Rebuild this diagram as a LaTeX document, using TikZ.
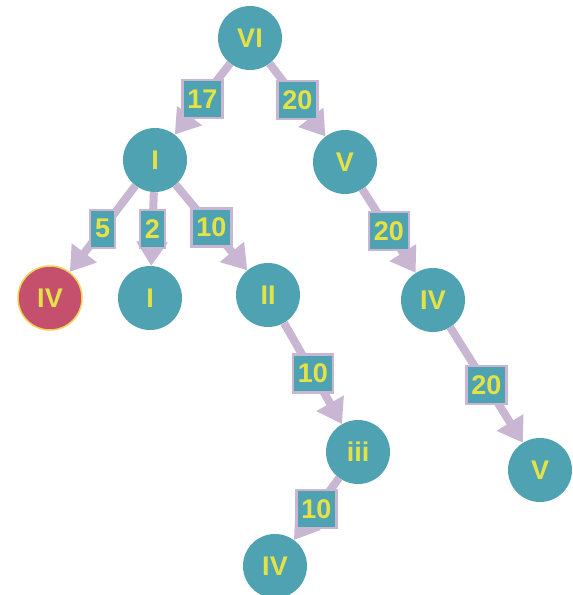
\documentclass[tikz,border=0pt]{standalone}
\usepackage{fontspec}
\setmainfont{Liberation Sans}
\usetikzlibrary{arrows.meta}
\definecolor{teal1}{RGB}{78,162,178}
\definecolor{rose1}{RGB}{196,80,110}
\definecolor{gold1}{RGB}{240,210,80}
\definecolor{txt1}{RGB}{228,226,70}
\definecolor{lav1}{RGB}{201,182,211}

\begin{document}
\begin{tikzpicture}[x=1pt, y=-1pt,
    vert/.style={circle, fill=teal1, minimum size=64pt, inner sep=0pt, text=txt1, font=\fontsize{27}{27}\selectfont\bfseries},
    hit/.style={vert, fill=rose1, draw=gold1, line width=1.5pt},
    wlabel/.style={fill=teal1, draw=lav1, line width=2.5pt, text=txt1, inner sep=5pt, minimum height=38pt, font=\fontsize{27}{27}\selectfont\bfseries},
    arc/.style={draw=lav1, line width=8pt, -{Triangle[length=24pt, width=30pt]}},
]
\useasboundingbox (0,0) rectangle (573,595);
% vertices
\node[vert] (r)  at (250,38)  {VI};
\node[vert] (a)  at (155,160) {I};
\node[vert] (b)  at (345,162) {V};
\node[hit]  (a1) at (50,298)  {IV};
\node[vert] (a2) at (150,298) {I};
\node[vert] (a3) at (268,295) {II};
\node[vert] (b1) at (433,300) {IV};
\node[vert] (c)  at (358,452) {iii};
\node[vert] (b2) at (540,470) {V};
\node[vert] (c1) at (275,566) {IV};
% weighted arcs
\draw[arc] (r)  -- (a)  node[midway, wlabel] (w1) {17};
\draw[arc] (r)  -- (b)  node[midway, wlabel] (w2) {20};
\draw[arc] (a)  -- (a1) node[midway, wlabel] (w3) {5};
\draw[arc] (a)  -- (a2) node[midway, wlabel] (w4) {2};
\draw[arc] (a)  -- (a3) node[midway, wlabel] (w5) {10};
\draw[arc] (b)  -- (b1) node[midway, wlabel] (w6) {20};
\draw[arc] (a3) -- (c)  node[midway, wlabel] (w7) {10};
\draw[arc] (b1) -- (b2) node[midway, wlabel] (w8) {20};
\draw[arc] (c)  -- (c1) node[midway, wlabel] (w9) {10};
\end{tikzpicture}
\end{document}
